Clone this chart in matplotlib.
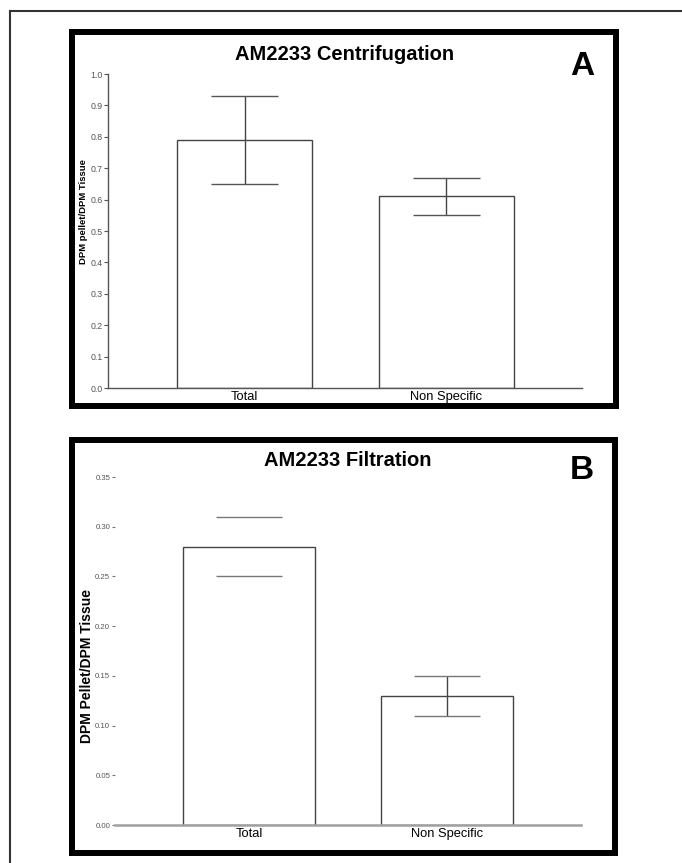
"""Two-panel bar chart: AM2233 centrifugation vs filtration binding."""

import matplotlib

matplotlib.use("Agg")

import matplotlib.pyplot as plt
import numpy as np
from matplotlib.lines import Line2D
from matplotlib.patches import Rectangle

categories = ["Total", "Non Specific"]

# panel A: centrifugation
cent_mean = [0.79, 0.61]
cent_low = [0.65, 0.55]
cent_high = [0.93, 0.67]
cent_ticks = [0.0, 0.1, 0.2, 0.3, 0.4, 0.5, 0.6, 0.7, 0.8, 0.9, 1.0]

# panel B: filtration
filt_mean = [0.28, 0.13]
filt_low = [0.25, 0.11]
filt_high = [0.31, 0.15]
filt_ticks = [0.00, 0.05, 0.10, 0.15, 0.20, 0.25, 0.30, 0.35]

W, H = 682, 863
plt.rcParams["font.family"] = ["Liberation Sans", "DejaVu Sans"]


def fx(px):
    return px / W


def fy(py):
    return 1 - py / H


def axes_box(x0, y0, x1, y1):
    # pixel box (top-left origin) -> figure fraction rect
    return [fx(x0), fy(y1), fx(x1) - fx(x0), fy(y0) - fy(y1)]


fig = plt.figure(figsize=(W / 100, H / 100), dpi=100)

# thin outer frame (top and left only)
fig.add_artist(Line2D([fx(10), fx(682)], [fy(11), fy(11)], color="#333333", lw=1.5))
fig.add_artist(Line2D([fx(10), fx(10)], [fy(11), fy(863)], color="#333333", lw=1.5))

# heavy black boxes around each panel
for (x0, y0, x1, y1) in [(72, 32, 616, 406), (72, 440, 615, 853)]:
    fig.add_artist(Rectangle((fx(x0), fy(y1)), fx(x1) - fx(x0), fy(y0) - fy(y1),
                             fill=False, ec="black", lw=4.3))

x = np.arange(len(categories))

# ---- Panel A ----
ax = fig.add_axes(axes_box(108, 74, 582, 388))
w = 0.668
ax.bar(x, cent_mean, width=w, color="white", edgecolor="#444444", linewidth=1.0)
ax.vlines(x, cent_low, cent_high, color="#444444", lw=1.0)
ax.hlines(cent_low, x - w / 4, x + w / 4, color="#555555", lw=1.0)
ax.hlines(cent_high, x - w / 4, x + w / 4, color="#555555", lw=1.0)
ax.set_xlim(-0.676, 1.671)
ax.set_ylim(0, 1.0)
ax.set_yticks(cent_ticks)
ax.set_yticklabels([f"{t:.1f}" for t in cent_ticks])
ax.set_xticks(x)
ax.set_xticklabels(categories, fontsize=9.3)
ax.tick_params(axis="x", length=0, pad=2)
ax.tick_params(axis="y", length=3, width=0.8, color="#555555", labelsize=6.3,
               labelcolor="#555555", pad=1)
for s in ["top", "right"]:
    ax.spines[s].set_visible(False)
for s in ["left", "bottom"]:
    ax.spines[s].set_color("#555555")
    ax.spines[s].set_linewidth(1.0)
fig.text(fx(84), fy(212), "DPM pellet/DPM Tissue", rotation=90, fontsize=6.8,
         fontweight="bold", ha="center", va="center")
fig.text(fx(345), fy(60), "AM2233 Centrifugation", fontsize=14.5,
         fontweight="bold", ha="center", va="baseline")
fig.text(fx(582), fy(75), "A", fontsize=24, fontweight="bold",
         ha="center", va="baseline")

# ---- Panel B ----
ax = fig.add_axes(axes_box(115, 477, 581, 825))
w = 0.665
ax.bar(x, filt_mean, width=w, color="white", edgecolor="#444444", linewidth=1.0)
# only the Non Specific bar shows a vertical whisker
ax.vlines(x[1:], filt_low[1:], filt_high[1:], color="#444444", lw=1.0)
ax.hlines(filt_low, x - w / 4, x + w / 4, color="#777777", lw=1.0)
ax.hlines(filt_high, x - w / 4, x + w / 4, color="#777777", lw=1.0)
ax.set_xlim(-0.675, 1.673)
ax.set_ylim(0, 0.35)
ax.set_yticks(filt_ticks)
ax.set_yticklabels([f"{t:.2f}" for t in filt_ticks])
ax.set_xticks(x)
ax.set_xticklabels(categories, fontsize=9.3)
ax.tick_params(axis="x", length=0, pad=2)
ax.tick_params(axis="y", length=2.5, width=0.8, color="#777777", labelsize=5.6,
               labelcolor="#555555", pad=1)
for s in ["top", "right", "left"]:
    ax.spines[s].set_visible(False)
ax.spines["bottom"].set_color("#a0a0a0")
ax.spines["bottom"].set_linewidth(1.8)
fig.text(fx(87), fy(666), "DPM Pellet/DPM Tissue", rotation=90, fontsize=10,
         fontweight="bold", ha="center", va="center")
fig.text(fx(348), fy(466), "AM2233 Filtration", fontsize=14.5,
         fontweight="bold", ha="center", va="baseline")
fig.text(fx(582), fy(479), "B", fontsize=24, fontweight="bold",
         ha="center", va="baseline")

fig.savefig("out.png", dpi=100)
